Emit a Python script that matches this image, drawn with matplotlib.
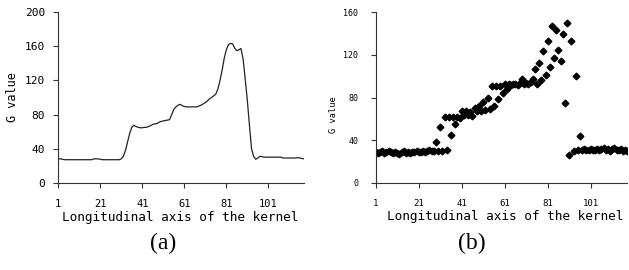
import matplotlib
matplotlib.use("Agg")
import matplotlib.pyplot as plt

# G value along the kernel, line profile (a)
g_line = [28, 28, 27.5, 27, 27, 27, 27, 27, 27, 27,
          27, 27, 27, 27, 27, 27, 27, 28, 28, 28,
          27.5, 27, 27, 27, 27, 27, 27, 27, 27, 27,
          28, 31, 38, 48, 58, 65, 67.5, 66, 65, 64.5,
          64.5, 65, 65, 66, 67, 68.5, 69, 69.5, 71, 72,
          72.5, 73, 73.5, 74, 80, 86, 89, 91, 92, 90.5,
          89.5, 89, 89, 89, 89, 89, 89, 90, 91, 92.5,
          94, 96, 98.5, 100, 102, 104, 110, 120, 132, 146,
          156, 162, 163.5, 163, 158, 155, 156, 157.5, 145, 122,
          97, 68, 40, 31, 27.5, 29, 31, 30.5, 30, 30,
          30, 30, 30, 30, 30, 30, 30, 29, 29, 29,
          29, 29, 29, 29, 29.5, 29, 28.5, 28]

# G value along the kernel, scatter (b)
g_pts = [29, 28, 29, 30, 28, 29, 30, 29, 28, 29,
         28, 27, 29, 30, 28, 29, 28, 29, 29, 30,
         29, 29, 30, 29, 30, 31, 30, 30, 38, 30,
         52, 30, 62, 31, 62, 45, 62, 55, 62, 61,
         67, 64, 67, 64, 66, 63, 70, 67, 72, 67,
         76, 68, 80, 69, 91, 72, 91, 79, 91, 84,
         93, 88, 93, 92, 93, 93, 92, 94, 97, 93,
         94, 93, 95, 97, 107, 93, 112, 96, 124, 101,
         133, 109, 147, 117, 143, 125, 114, 140, 75, 150,
         26, 133, 30, 100, 31, 44, 31, 32, 31, 31,
         32, 31, 31, 32, 31, 32, 33, 31, 32, 30,
         32, 33, 31, 31, 32, 30, 31, 30]

pos = list(range(1, len(g_line) + 1))
xticks = [1, 21, 41, 61, 81, 101]
mono = "DejaVu Sans Mono"

fig = plt.figure(figsize=(6.29, 2.7), dpi=100)
ax1 = fig.add_axes([0.0927, 0.3233, 0.3906, 0.631])
ax2 = fig.add_axes([0.5973, 0.3233, 0.4, 0.631])

ax1.plot(pos, g_line, color="#222222", lw=0.9)
ax2.plot(pos, g_pts, ls="none", marker="D", ms=3.4, color="black", mec="black")

for ax, top, fs_y, fs_lab in [(ax1, 200, 8, 8.5), (ax2, 160, 6, 6.2)]:
    ax.set_xlim(1, 118)
    ax.set_ylim(0, top)
    ax.set_xticks(xticks)
    ax.set_yticks(range(0, top + 1, 40))
    for s in ["top", "right"]:
        ax.spines[s].set_visible(False)
    for s in ["left", "bottom"]:
        ax.spines[s].set_linewidth(0.8)
        ax.spines[s].set_color("#333333")
    ax.tick_params(direction="out", length=3.5, width=0.8, color="#333333",
                   labelfontfamily=mono)
    ax.tick_params(axis="y", labelsize=fs_y, pad=6 if ax is ax1 else 9)
    ax.tick_params(axis="x", labelsize=7.5 if ax is ax1 else 6.5, pad=8)
    ax.set_xlabel("Longitudinal axis of the kernel", fontfamily=mono, fontsize=9.2)
    ax.set_ylabel("G value", fontfamily=mono, fontsize=fs_lab)
    ax.xaxis.label.set_va("center")
    ax.yaxis.label.set_va("center")

ax1.xaxis.set_label_coords(0.495, -0.207)
ax2.xaxis.set_label_coords(0.516, -0.2)
ax1.yaxis.set_label_coords(-0.188, 0.503)
ax2.yaxis.set_label_coords(-0.166, 0.40)

fig.text(163 / 629, 1 - 243 / 270, "(a)", family="Liberation Serif", fontsize=17,
         ha="center", va="center")
fig.text(472 / 629, 1 - 243 / 270, "(b)", family="Liberation Serif", fontsize=17,
         ha="center", va="center")

fig.savefig("out.png", dpi=100)
